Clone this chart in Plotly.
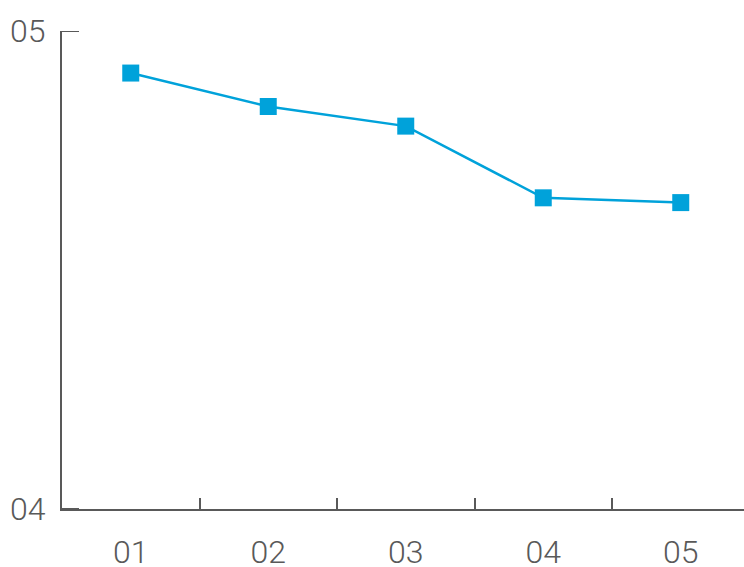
import plotly.graph_objects as go

categories = ["01", "02", "03", "04", "05"]
values = [4.912, 4.842, 4.801, 4.651, 4.641]
y_tick_vals = [4, 5]
y_tick_text = ["04", "05"]

axis_color = "#595959"
font = dict(family="Roboto, Open Sans, sans-serif", size=32, color=axis_color, weight=300)

fig = go.Figure(
    go.Scatter(
        x=categories,
        y=values,
        mode="lines+markers",
        line=dict(color="#00A2DA", width=2.5),
        marker=dict(symbol="square", size=17, color="#00A2DA"),
        showlegend=False,
        cliponaxis=False,
    )
)

# y-axis inside ticks at the range ends (plotly clips inside ticks at the ends)
for v in y_tick_vals:
    fig.add_shape(
        type="line", xref="x domain", yref="y",
        x0=0, x1=17 / 682, y0=v, y1=v,
        line=dict(color=axis_color, width=2),
    )

fig.update_layout(
    width=744,
    height=567,
    margin=dict(l=62, r=0, t=31, b=58, autoexpand=False),
    paper_bgcolor="white",
    plot_bgcolor="white",
    font=font,
    xaxis=dict(
        type="category",
        range=[-0.5, 4.46],
        automargin=False,
        showline=True,
        linecolor=axis_color,
        linewidth=2,
        ticks="inside",
        tickson="boundaries",
        ticklen=11,
        tickwidth=2,
        tickcolor=axis_color,
        showgrid=False,
        zeroline=False,
        ticklabelstandoff=14,
        tickfont=font,
    ),
    yaxis=dict(
        range=[4, 5],
        automargin=False,
        tickvals=y_tick_vals,
        ticktext=y_tick_text,
        showline=True,
        linecolor=axis_color,
        linewidth=2,
        ticks="",
        showgrid=False,
        zeroline=False,
        ticklabelstandoff=8,
        tickfont=font,
    ),
)

fig.write_html(
    "out.html",
    config={"displayModeBar": False},
    post_script="document.body.style.margin='0';document.body.style.overflow='hidden';",
)
